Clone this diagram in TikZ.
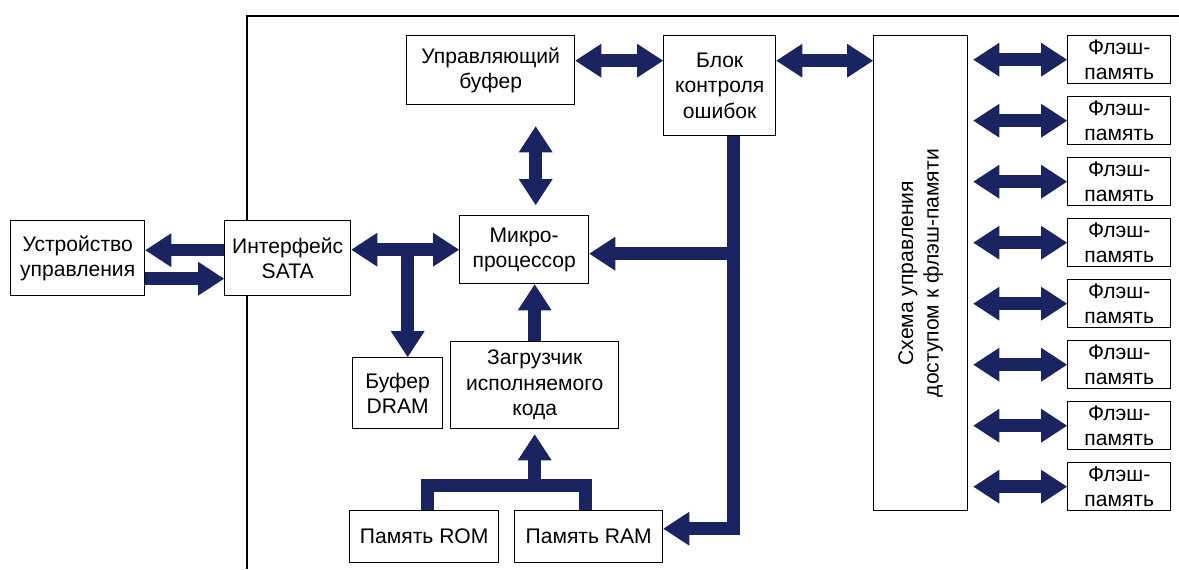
\documentclass[tikz,border=0pt]{standalone}
\usepackage{fontspec}
\setmainfont{Liberation Sans}
\usetikzlibrary{arrows.meta, calc}
\definecolor{busblue}{RGB}{26,36,96}

\begin{document}
\begin{tikzpicture}[x=0.02cm, y=-0.02cm,
    box/.style={draw, line width=0.8pt, fill=white, align=center, inner sep=1pt,
        anchor=north west, font=\fontsize{12}{14.5}\selectfont},
    bus/.style={busblue, line width=0.25cm, line join=miter},
    >={Triangle[width=0.68cm, length=0.52cm, line width=0pt]}]
        \useasboundingbox (0,0) rectangle (1179,569);

        % Outer frame of the drive
        \draw[line width=0.8pt] (247,569) -- (247,16) -- (1179,16);

        % Blocks
        \node[box, minimum width=2.68cm, minimum height=1.5cm] (ctl) at (10,220) {Устройство\\управления};
        \node[box, minimum width=2.52cm, minimum height=1.5cm] (sata) at (224,220) {Интерфейс\\SATA};
        \node[box, minimum width=3.36cm, minimum height=1.38cm] (cbuf) at (406,35) {Управляющий\\буфер};
        \node[box, minimum width=2.24cm, minimum height=2.0cm] (ecc) at (663,35) {Блок\\контроля\\ошибок};
        \node[box, minimum width=2.58cm, minimum height=1.36cm] (cpu) at (459,215) {Микро-\\процессор};
        \node[box, minimum width=1.8cm, minimum height=1.42cm] (dram) at (352,357) {Буфер\\DRAM};
        \node[box, minimum width=3.36cm, minimum height=1.74cm] (boot) at (450,341) {Загрузчик\\исполняемого\\кода};
        \node[box, minimum width=2.98cm, minimum height=1.04cm] (rom) at (349,510) {Память ROM};
        \node[box, minimum width=2.96cm, minimum height=1.04cm] (ram) at (514,510) {Память RAM};
        \node[box, minimum width=1.88cm, minimum height=9.5cm] (sch) at (873,35) {};
        \node[rotate=90, align=center, font=\fontsize{12}{14.5}\selectfont] (schlbl) at (sch.center)
            {Схема управления\\доступом к флэш-памяти};

        % Flash chips
        \foreach \i in {0,...,7}
        {
            \node[box, minimum width=2.06cm, minimum height=0.96cm] (fl\i) at (1067,{35+61*\i}) {Флэш-\\память};
            \draw[bus, <->] ([xshift=1mm]fl\i.west -| sch.east) -- (fl\i.west);
        }

        % Host link
        \draw[bus, ->] ([yshift=1.6mm]sata.west) -- ([yshift=1.6mm]ctl.east);
        \draw[bus, ->] ([yshift=-4.1mm]ctl.east) -- ([yshift=-4.1mm]sata.west);

        % Internal buses
        \draw[bus, <->] (sata.east |- cpu.west) -- (cpu.west);
        \draw[bus, ->] ([xshift=2mm]dram.north |- cpu.west) -- ([xshift=2mm]dram.north);
        \draw[bus, <->] ([yshift=1.9mm]cbuf.east) -- ([yshift=1.9mm]cbuf.east -| ecc.west);
        \draw[bus, <->] ([yshift=5mm]ecc.east) -- ([yshift=5mm]ecc.east -| sch.west);
        \draw[bus, <->] ([xshift=2.3mm, yshift=-4.2mm]cbuf.south -| cpu.north) -- ([xshift=2.3mm, yshift=2mm]cpu.north);
        \draw[bus, ->] (boot.north) -- (boot.north |- cpu.south);
        \draw[bus, ->] ([xshift=2.8mm]ecc.south) |- ([yshift=1.6mm]ram.east);
        \draw[bus, ->] ([xshift=2.8mm, yshift=-0.8mm]ecc.south |- cpu.east) -- ([yshift=-0.8mm]cpu.east);

        % ROM and RAM feed the loader
        \coordinate (junc) at ([yshift=-11.2mm]boot.south);
        \draw[bus] ([xshift=0.7mm]rom.north) |- (junc) -| ([xshift=-0.6mm]ram.north);
        \draw[bus, ->] (junc) -- ([yshift=-1mm]boot.south);
\end{tikzpicture}
\end{document}
